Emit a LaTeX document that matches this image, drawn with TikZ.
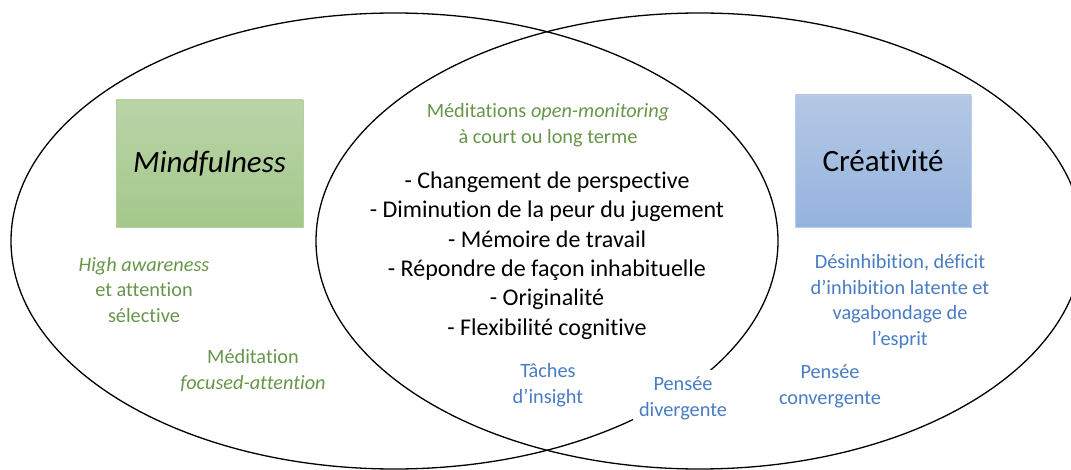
\documentclass[tikz,border=0pt]{standalone}
\usepackage{fontspec}
\setmainfont{Carlito}[Ligatures=NoCommon]
\usetikzlibrary{shapes.geometric}
\definecolor{txtgreen}{HTML}{67964A}
\definecolor{txtblue}{HTML}{487CC4}
\definecolor{gtop}{HTML}{BAD4A8}
\definecolor{gbot}{HTML}{A4C88B}
\definecolor{gline}{HTML}{B2D29C}
\definecolor{btop}{HTML}{B4C8E5}
\definecolor{bbot}{HTML}{95B3DE}
\definecolor{bline}{HTML}{B8CDEA}
\tikzset{
  venn/.style={ellipse, draw=black, line width=1.3pt, inner sep=0pt,
    minimum width=767pt, minimum height=456pt},
  titlebox/.style={rectangle, inner sep=0pt, line width=0.8pt,
    font=\fontsize{31}{37}\selectfont},
  smalltxt/.style={align=center, inner sep=1pt, font=\fontsize{20.3}{25.7}\selectfont},
  greentxt/.style={smalltxt, text=txtgreen},
  bluetxt/.style={smalltxt, text=txtblue},
  listtxt/.style={align=center, inner sep=1pt, font=\fontsize{24}{29.3}\selectfont}
}
\begin{document}
\begin{tikzpicture}[x=1pt,y=-1pt]
\useasboundingbox (0,0) rectangle (1071,470);
\clip (0,0) rectangle (1071,470);
\node[venn] (L) at (394.5,241) {};
\node[venn] (R) at (699.5,241) {};
\node[titlebox, draw=gline, top color=gtop, bottom color=gbot,
  minimum width=187pt, minimum height=127pt] (M) at (209.5,163.5) {\itshape Mindfulness};
\node[titlebox, draw=bline, top color=btop, bottom color=bbot,
  minimum width=176pt, minimum height=132pt] (C) at (883,161) {Créativité};
\node[greentxt] (om) at (548,125.5) {Méditations \textit{open-monitoring}\\à court ou long terme};
\node[listtxt] (list) at (547,255.5) {- Changement de perspective\\- Diminution de la peur du jugement\\- Mémoire de travail\\- Répondre de façon inhabituelle\\- Originalité\\- Flexibilité cognitive};
\node[greentxt] (ha) at (144,290) {\textit{High awareness}\\et attention\\sélective};
\node[greentxt] (fa) at (253,370.5) {Méditation\\\textit{focused-attention}};
\node[bluetxt] (ti) at (548,385.5) {Tâches\\d’insight};
\node[bluetxt, fill=white, inner sep=6pt] (pd) at (683,398) {Pensée\\divergente};
\node[bluetxt] (pc) at (830,386) {Pensée\\convergente};
\node[bluetxt] (ds) at (900,301.5) {Désinhibition, déficit\\d’inhibition latente et\\vagabondage de\\l’esprit};
\end{tikzpicture}
\end{document}
